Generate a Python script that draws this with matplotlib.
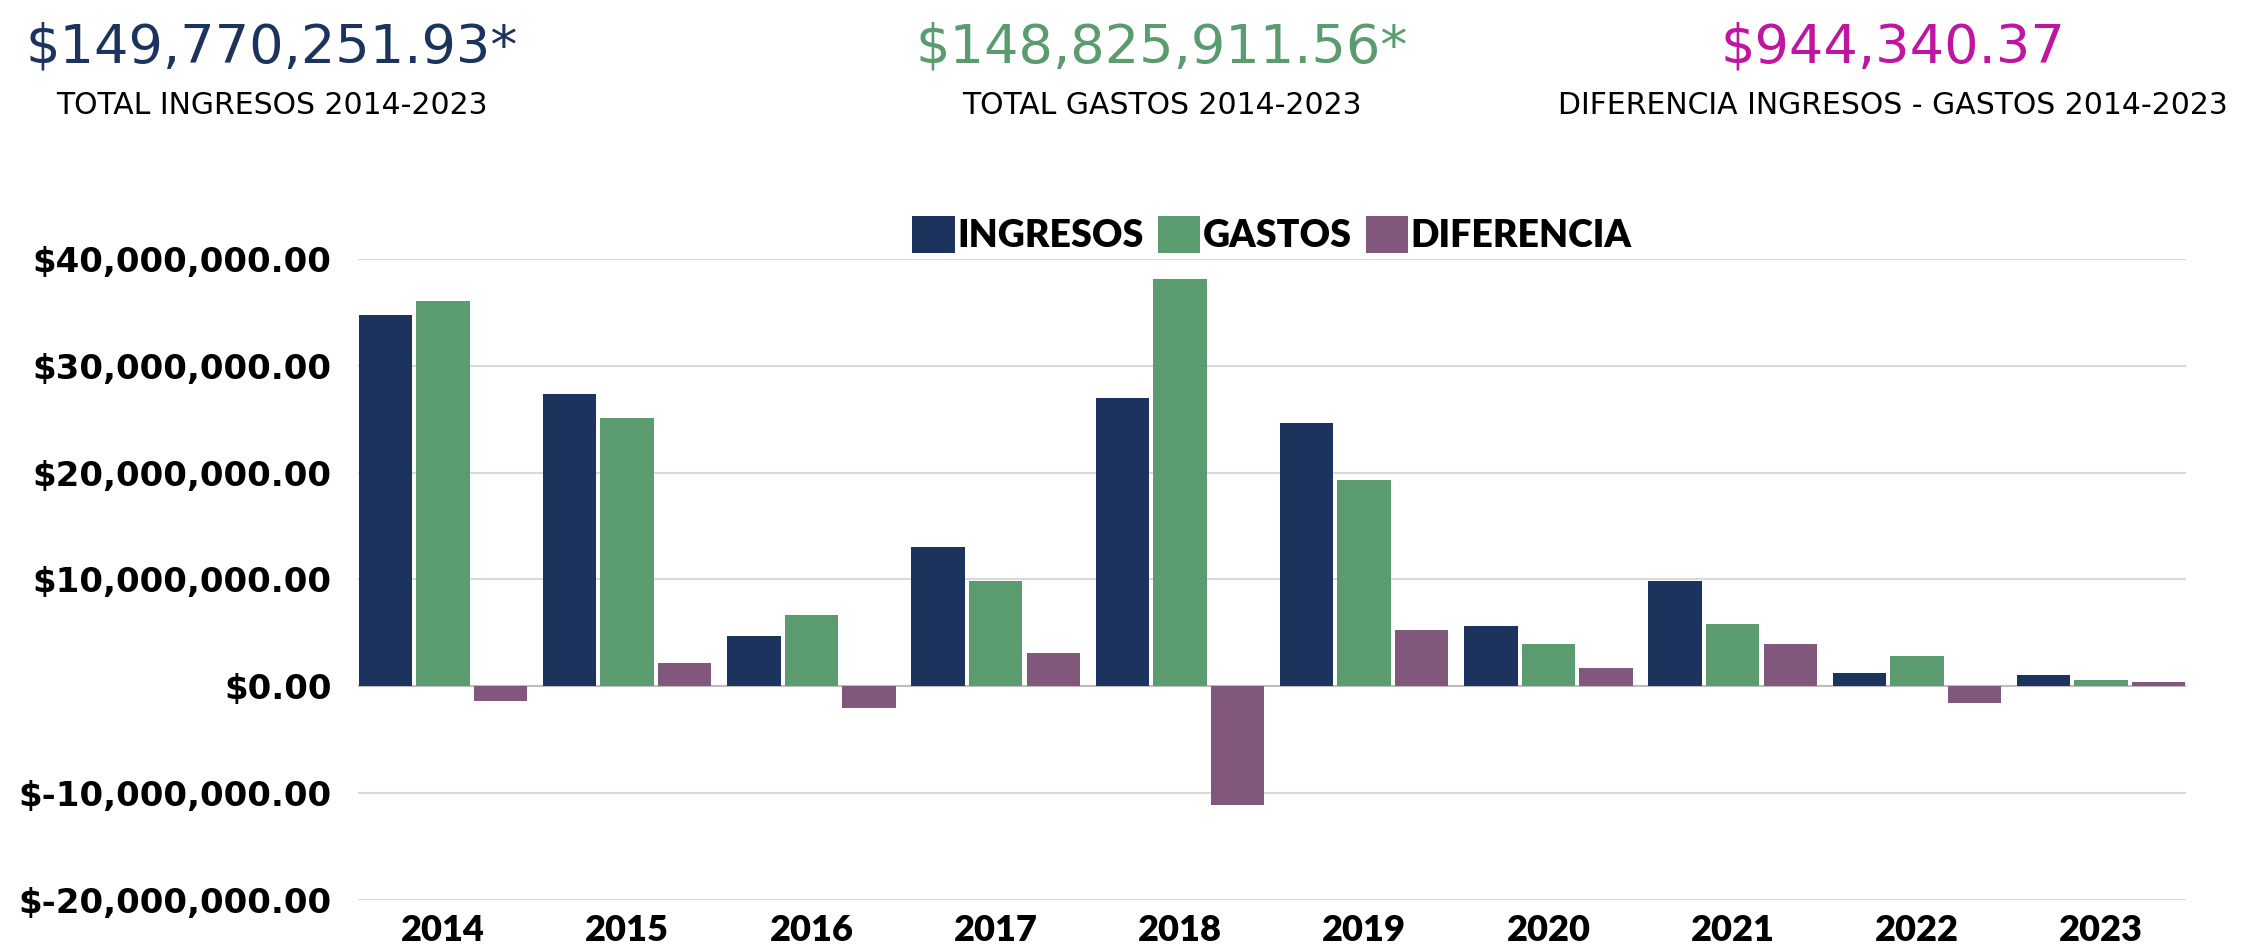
import matplotlib.pyplot as plt
from matplotlib.ticker import FuncFormatter
import numpy as np

# datos (pesos)
years = ["2014", "2015", "2016", "2017", "2018", "2019", "2020", "2021", "2022", "2023"]
ingresos = [34.76e6, 27.4e6, 4.7e6, 13.0e6, 27.0e6, 24.6e6, 5.69e6, 9.9e6, 1.28e6, 1.06e6]
gastos = [36.1e6, 25.1e6, 6.7e6, 9.9e6, 38.1e6, 19.3e6, 3.94e6, 5.88e6, 2.81e6, 0.63e6]
diferencia = [-1.34e6, 2.2e6, -2.0e6, 3.1e6, -11.06e6, 5.31e6, 1.69e6, 4.0e6, -1.53e6, 0.44e6]

totales = ["$149,770,251.93*", "$148,825,911.56*", "$944,340.37"]
subtitulos = ["TOTAL INGRESOS 2014-2023", "TOTAL GASTOS 2014-2023",
              "DIFERENCIA INGRESOS - GASTOS 2014-2023"]

C_ING = "#1c345d"
C_GAS = "#5b9b70"
C_DIF = "#81577b"
C_TOP = [C_ING, C_GAS, "#be16a0"]

fig = plt.figure(figsize=(22.47, 9.51), dpi=100)
ax = fig.add_axes([0.1593, 0.0536, 0.8136, 0.6741])

x = np.arange(len(years))
step = 0.3125
w = 0.29
ax.bar(x - step, ingresos, w, color=C_ING, label="INGRESOS", zorder=3)
ax.bar(x, gastos, w, color=C_GAS, label="GASTOS", zorder=3)
ax.bar(x + step, diferencia, w, color=C_DIF, label="DIFERENCIA", zorder=3)

ax.set_xlim(-0.461, 9.461)
ax.set_ylim(-20e6, 40e6)
ax.set_yticks(np.arange(-20e6, 40e6 + 1, 10e6))
ax.yaxis.set_major_formatter(FuncFormatter(
    lambda v, p: "$-{:,.2f}".format(-v) if v < 0 else "${:,.2f}".format(v)))
ax.set_xticks(x)
ax.set_xticklabels(years)

ax.grid(axis="y", color="#d9d9d9", linewidth=1.5, zorder=0)
ax.axhline(0, color="#bdbdbd", linewidth=1.5, zorder=2)
for s in ax.spines.values():
    s.set_visible(False)
ax.tick_params(length=0)
ax.tick_params(axis="y", pad=19)
ax.tick_params(axis="x", pad=10)
for t in ax.get_yticklabels():
    t.set_fontfamily("DejaVu Sans")
    t.set_fontweight("bold")
    t.set_fontsize(24.5)
for t in ax.get_xticklabels():
    t.set_fontfamily("Lato")
    t.set_fontweight("heavy")
    t.set_fontsize(26)

leg = ax.legend(loc="lower center", bbox_to_anchor=(0.5, 1.0), ncol=3, frameon=False,
                handlelength=1.13, handleheight=1.13, handletextpad=0.07,
                columnspacing=0.37, borderaxespad=0.0, borderpad=0.15,
                prop={"family": "Lato", "weight": "heavy", "size": 27})

# encabezado con totales
cx = [272 / 2247, 1162 / 2247, 1893 / 2247]
for i in range(3):
    fig.text(cx[i], 1 - 47 / 951, totales[i], color=C_TOP[i], ha="center", va="center",
             fontsize=39, fontfamily="DejaVu Sans")
    fig.text(cx[i], 1 - 105 / 951, subtitulos[i], color="black", ha="center", va="center",
             fontsize=21.5, fontfamily="DejaVu Sans")

fig.savefig("out.png", dpi=100)
